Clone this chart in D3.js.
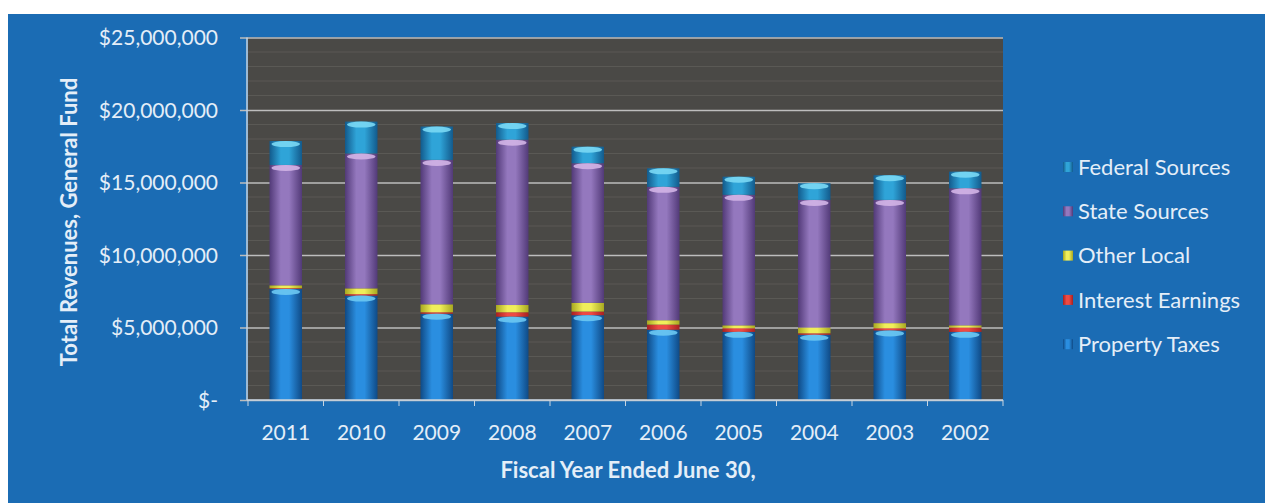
<!DOCTYPE html>
<html>
<head>
<meta charset="utf-8">
<script src="https://cdn.jsdelivr.net/npm/d3@7/dist/d3.min.js"></script>
<style>
  html, body { margin: 0; padding: 0; background: #ffffff; }
  svg { display: block; }
  text { font-family: Lato, "Open Sans", sans-serif; }
</style>
</head>
<body>
<svg id="chart" width="1265" height="503"></svg>
<script>
// ---- Data (values in dollars) ----
const years = ["2011", "2010", "2009", "2008", "2007", "2006", "2005", "2004", "2003", "2002"];
const propertyTaxes    = [7660000, 7200000, 5950000, 5750000, 5850000, 4850000, 4700000, 4500000, 4800000, 4700000];
const interestEarnings = [50000, 100000, 100000, 300000, 250000, 350000, 250000, 100000, 150000, 300000];
const otherLocal       = [200000, 400000, 550000, 500000, 600000, 300000, 200000, 400000, 350000, 150000];
const stateSources     = [8300000, 9300000, 9960000, 11400000, 9630000, 9200000, 9000000, 8800000, 8500000, 9450000];
const federalSources   = [1650000, 2200000, 2300000, 1150000, 1140000, 1280000, 1250000, 1150000, 1700000, 1150000];
const yTicks = [0, 5000000, 10000000, 15000000, 20000000, 25000000];
const seriesNames = ["Property Taxes", "Interest Earnings", "Other Local", "State Sources", "Federal Sources"];
const legendOrder = ["Federal Sources", "State Sources", "Other Local", "Interest Earnings", "Property Taxes"];

const seriesValues = {
  "Property Taxes": propertyTaxes,
  "Interest Earnings": interestEarnings,
  "Other Local": otherLocal,
  "State Sources": stateSources,
  "Federal Sources": federalSources
};

// styles
const styles = {
  "Property Taxes":    { edge: "#0f4a86", mid: "#2a8ee0", cap: "#6cc8f2" },
  "Interest Earnings": { edge: "#a82020", mid: "#ee4a44", cap: null },
  "Other Local":       { edge: "#a8a820", mid: "#f0ee5a", cap: null },
  "State Sources":     { edge: "#523a78", mid: "#9478be", cap: "#d2b4e6" },
  "Federal Sources":   { edge: "#125a8c", mid: "#2fa4d8", cap: "#7ad8f4" }
};

const rows = years.map((y, i) => {
  const r = { year: y };
  seriesNames.forEach(s => r[s] = seriesValues[s][i]);
  return r;
});

const svg = d3.select("#chart");
const W = 1265, H = 503;
const plot = { left: 248, right: 1003, top: 37.5, bottom: 400 };
const textColor = "#e4eef8";

// gradients
const defs = svg.append("defs");
seriesNames.forEach((s, k) => {
  const g = defs.append("linearGradient").attr("id", "grad" + k).attr("x1", "0").attr("x2", "1").attr("y1", "0").attr("y2", "0");
  g.append("stop").attr("offset", "0%").attr("stop-color", styles[s].edge);
  g.append("stop").attr("offset", "35%").attr("stop-color", styles[s].mid);
  g.append("stop").attr("offset", "60%").attr("stop-color", styles[s].mid);
  g.append("stop").attr("offset", "100%").attr("stop-color", styles[s].edge);
});

// outer panel
svg.append("rect").attr("x", 8).attr("y", 14).attr("width", W - 8).attr("height", H - 14).attr("fill", "#1b6cb4");

// plot area
svg.append("rect").attr("x", plot.left).attr("y", plot.top).attr("width", plot.right - plot.left)
  .attr("height", plot.bottom - plot.top).attr("fill", "#4a4946");

const x = d3.scaleBand().domain(years).range([plot.left, plot.right]).paddingInner(0.57).paddingOuter(0.285);
const y = d3.scaleLinear().domain([0, 25000000]).range([plot.bottom, plot.top]);

// minor texture lines
const minor = d3.range(1000000, 25000000, 1000000).filter(v => v % 5000000 !== 0);
svg.append("g").selectAll("line").data(minor).join("line")
  .attr("x1", plot.left).attr("x2", plot.right)
  .attr("y1", d => y(d)).attr("y2", d => y(d))
  .attr("stroke", "#5a5955").attr("stroke-width", 1);

// y axis with gridlines
const yAxis = d3.axisLeft(y).tickValues(yTicks)
  .tickSize(plot.right - plot.left + 8)
  .tickPadding(22)
  .tickFormat(d => d === 0 ? "$-" : "$" + d3.format(",")(d));
const gy = svg.append("g").attr("transform", `translate(${plot.right},0)`).call(yAxis);
gy.select(".domain").remove();
gy.selectAll(".tick line").attr("stroke", "#bdbdbd").attr("stroke-width", 1.5);
gy.selectAll(".tick text").attr("fill", textColor).attr("font-size", 21).attr("dy", "0.35em");

// y axis line
svg.append("line").attr("x1", plot.left - 1).attr("x2", plot.left - 1).attr("y1", plot.top).attr("y2", plot.bottom)
  .attr("stroke", "#c8d4e0").attr("stroke-width", 1.5);

// stacked bars
const stack = d3.stack().keys(seriesNames);
const stacked = stack(rows);
const barsG = svg.append("g");
stacked.forEach((layer, k) => {
  const g = barsG.append("g");
  g.selectAll("rect").data(layer).join("rect")
    .attr("x", d => x(d.data.year))
    .attr("width", x.bandwidth())
    .attr("y", d => y(d[1]))
    .attr("height", d => Math.max(0, y(d[0]) - y(d[1])))
    .attr("fill", `url(#grad${k})`);
});
// caps (cylinder tops)
stacked.forEach((layer, k) => {
  const s = layer.key;
  if (!styles[s].cap) return;
  barsG.append("g").selectAll("ellipse").data(layer).join("ellipse")
    .attr("cx", d => x(d.data.year) + x.bandwidth() / 2)
    .attr("cy", d => y(d[1]) + 3)
    .attr("rx", x.bandwidth() / 2 - 2)
    .attr("ry", 3)
    .attr("fill", styles[s].cap)
    .attr("opacity", 0.9);
});

// x axis
const xAxisLine = svg.append("g");
xAxisLine.append("line").attr("x1", plot.left - 1).attr("x2", plot.right).attr("y1", plot.bottom).attr("y2", plot.bottom)
  .attr("stroke", "#c8d4e0").attr("stroke-width", 1.5);
const boundaries = d3.range(years.length + 1).map(i => plot.left + i * x.step());
xAxisLine.selectAll("line.tk").data(boundaries).join("line").attr("class", "tk")
  .attr("x1", d => d).attr("x2", d => d).attr("y1", plot.bottom).attr("y2", plot.bottom + 6)
  .attr("stroke", "#c8d4e0").attr("stroke-width", 1);
const xAxis = d3.axisBottom(x).tickSize(0).tickPadding(25);
const gx = svg.append("g").attr("transform", `translate(0,${plot.bottom})`).call(xAxis);
gx.select(".domain").remove();
gx.selectAll(".tick text").attr("fill", textColor).attr("font-size", 21);

// axis titles
svg.append("text").attr("x", 628).attr("y", 478).attr("text-anchor", "middle")
  .attr("fill", textColor).attr("font-size", 22).attr("font-weight", "bold")
  .text("Fiscal Year Ended June 30,");
svg.append("text").attr("transform", "translate(77,222) rotate(-90)").attr("text-anchor", "middle")
  .attr("fill", textColor).attr("font-size", 22).attr("font-weight", "bold")
  .text("Total Revenues, General Fund");

// legend
const legend = svg.append("g");
const ly0 = 167, lstep = 44.3;
legendOrder.forEach((s, i) => {
  const k = seriesNames.indexOf(s);
  const gy2 = ly0 + i * lstep;
  legend.append("rect").attr("x", 1063).attr("y", gy2 - 5).attr("width", 10).attr("height", 10)
    .attr("fill", `url(#grad${k})`);
  legend.append("text").attr("x", 1078).attr("y", gy2).attr("dy", "0.35em")
    .attr("fill", textColor).attr("font-size", 22).text(s);
});
</script>
</body>
</html>
